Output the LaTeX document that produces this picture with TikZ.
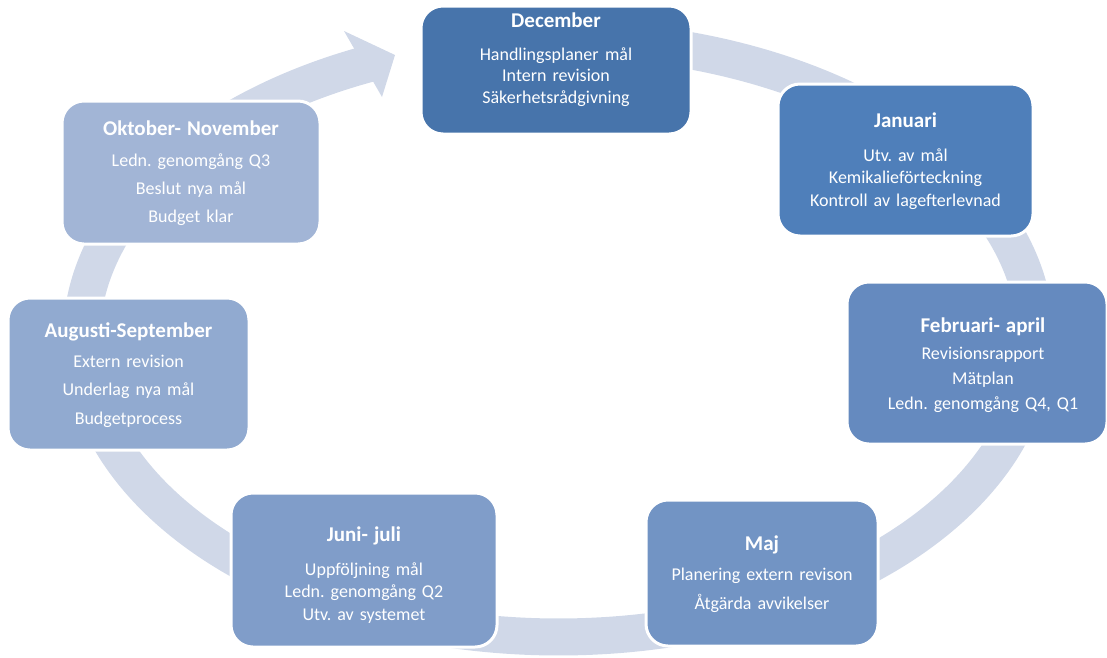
\documentclass[tikz,border=0pt]{standalone}
\usepackage{fontspec}
\setmainfont{Carlito}
\frenchspacing
\definecolor{bandc}{HTML}{D0D8E8}
\definecolor{cdec}{HTML}{4774AB}
\definecolor{cjan}{HTML}{4F7FBA}
\definecolor{cfeb}{HTML}{658ABF}
\definecolor{cmaj}{HTML}{7294C4}
\definecolor{cjun}{HTML}{809DC9}
\definecolor{caug}{HTML}{91AAD0}
\definecolor{cokt}{HTML}{A2B5D6}
\newcommand\monthtitle{\fontsize{21}{25}\bfseries}
\begin{document}
\begin{tikzpicture}[x=1pt,y=-1pt,
  band/.style={draw=bandc, line width=37pt},
  monthbox/.style={draw=white, line width=3pt, rounded corners=22pt, inner sep=0pt},
  boxtext/.style={text=white, text width=300pt, align=center, anchor=base, inner sep=0pt,
    font=\fontsize{18}{#1}\selectfont},
]
\useasboundingbox (0,0) rectangle (1107,657);

% circular arrow band running clockwise behind the boxes
\coordinate (ring) at (558.5,338);
\draw[band] plot[domain=-85:247, samples=150, smooth]
  ({558.5+477*cos(\x)}, {338+299*sin(\x)});
\fill[bandc] (344,31) -- (395,55) -- (382,97) -- cycle;

% month boxes
\node[monthbox, fill=cdec, minimum width=270pt, minimum height=128pt] (dec) at (556,70) {};
\node[monthbox, fill=cjan, minimum width=255pt, minimum height=152pt] (jan) at (905.5,160) {};
\node[monthbox, fill=cfeb, minimum width=260pt, minimum height=162pt] (feb) at (977,363) {};
\node[monthbox, fill=cmaj, minimum width=232pt, minimum height=146pt] (maj) at (762,573) {};
\node[monthbox, fill=cjun, minimum width=266pt, minimum height=154pt] (jun) at (364,570) {};
\node[monthbox, fill=caug, minimum width=241pt, minimum height=152pt] (aug) at (128.5,374) {};
\node[monthbox, fill=cokt, minimum width=258pt, minimum height=143pt] (okt) at (191,172.5) {};

% box texts
\node[boxtext=21.5pt] (dec-text) at (556,27)
  {{\monthtitle December}\\[11.5pt] Handlingsplaner\hspace{6.5pt}mål\\ Intern revision\\ Säkerhetsrådgivning};
\node[boxtext=22.5pt] (jan-text) at (905.5,127.7)
  {{\monthtitle Januari}\\[10.8pt] Utv. av mål\\ Kemikalieförteckning\\ Kontroll av lagefterlevnad};
\node[boxtext=25.3pt] (feb-text) at (983,332.7)
  {{\monthtitle Februari- april}\\[1.3pt] Revisionsrapport\\ Mätplan\\ Ledn. genomgång Q4, Q1};
\node[boxtext=28.6pt] (maj-text) at (762,550.7)
  {{\monthtitle Maj}\\[1.4pt] Planering extern revison\\ Åtgärda avvikelser};
\node[boxtext=22.2pt] (jun-text) at (364,541.7)
  {{\monthtitle Juni- juli}\\[11.8pt] Uppföljning mål\\ Ledn. genomgång Q2\\ Utv. av systemet};
\node[boxtext=28.5pt] (aug-text) at (128.5,337.3)
  {{\monthtitle Augusti-September}\\[1.5pt] Extern revision\\ Underlag nya mål\\ Budgetprocess};
\node[boxtext=28pt] (okt-text) at (191,135)
  {{\monthtitle Oktober- November}\\[3.7pt] Ledn. genomgång Q3\\ Beslut nya mål\\ Budget klar};
\end{tikzpicture}
\end{document}
